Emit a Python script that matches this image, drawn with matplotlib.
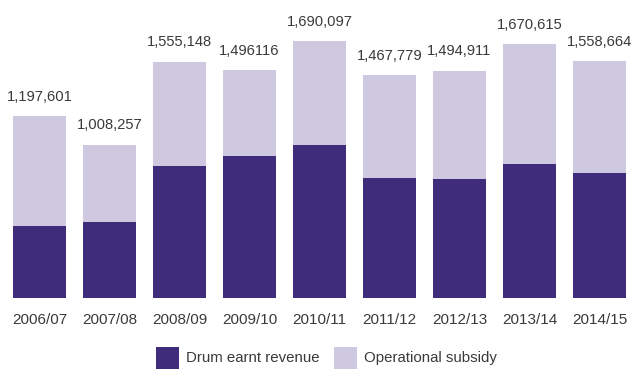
import numpy as np
import matplotlib
matplotlib.use('Agg')
import matplotlib.pyplot as plt
from matplotlib.patches import Rectangle

years = ['2006/07', '2007/08', '2008/09', '2009/10', '2010/11',
         '2011/12', '2012/13', '2013/14', '2014/15']
totals = [1197601, 1008257, 1555148, 1496116, 1690097,
          1467779, 1494911, 1670615, 1558664]
total_labels = ['1,197,601', '1,008,257', '1,555,148', '1,496116', '1,690,097',
                '1,467,779', '1,494,911', '1,670,615', '1,558,664']
drum_revenue = [472000, 498000, 869000, 935000, 1005000,
                788000, 782000, 880000, 821000]
subsidy = [t - d for t, d in zip(totals, drum_revenue)]

dark = '#3f2d7c'
light = '#cec9e0'
txt = '#3a3a3a'

plt.rcParams['font.family'] = ['Liberation Sans', 'DejaVu Sans']

W, H = 633, 369
fig = plt.figure(figsize=(W / 100, H / 100), dpi=100)
ax = fig.add_axes([0, 71.3 / H, 1, 297.7 / H])

x = np.arange(len(years))
ax.bar(x, drum_revenue, width=0.757, color=dark)
ax.bar(x, subsidy, bottom=drum_revenue, width=0.757, color=light)

for xi, t, lab in zip(x, totals, total_labels):
    ax.annotate(lab, (xi, t), xytext=(0, 11), textcoords='offset points',
                ha='center', va='baseline', fontsize=10.6, color=txt)

ax.set_xlim(-39.5 / 70, (W - 39.5) / 70)
ax.set_ylim(0, 297.7 * 6585)
ax.set_xticks(x)
ax.set_xticklabels(years, fontsize=11, color=txt)
ax.tick_params(axis='x', length=0, pad=11)
ax.set_yticks([])
for s in ax.spines.values():
    s.set_visible(False)

# legend
for px, label, c in [(156, 'Drum earnt revenue', dark), (334, 'Operational subsidy', light)]:
    fig.add_artist(Rectangle((px / W, 0), 23 / W, 22 / H, transform=fig.transFigure,
                             color=c, lw=0))
    fig.text((px + 30) / W, 11 / H, label, ha='left', va='center',
             fontsize=10.8, color=txt)

fig.savefig('out.png', dpi=100)
